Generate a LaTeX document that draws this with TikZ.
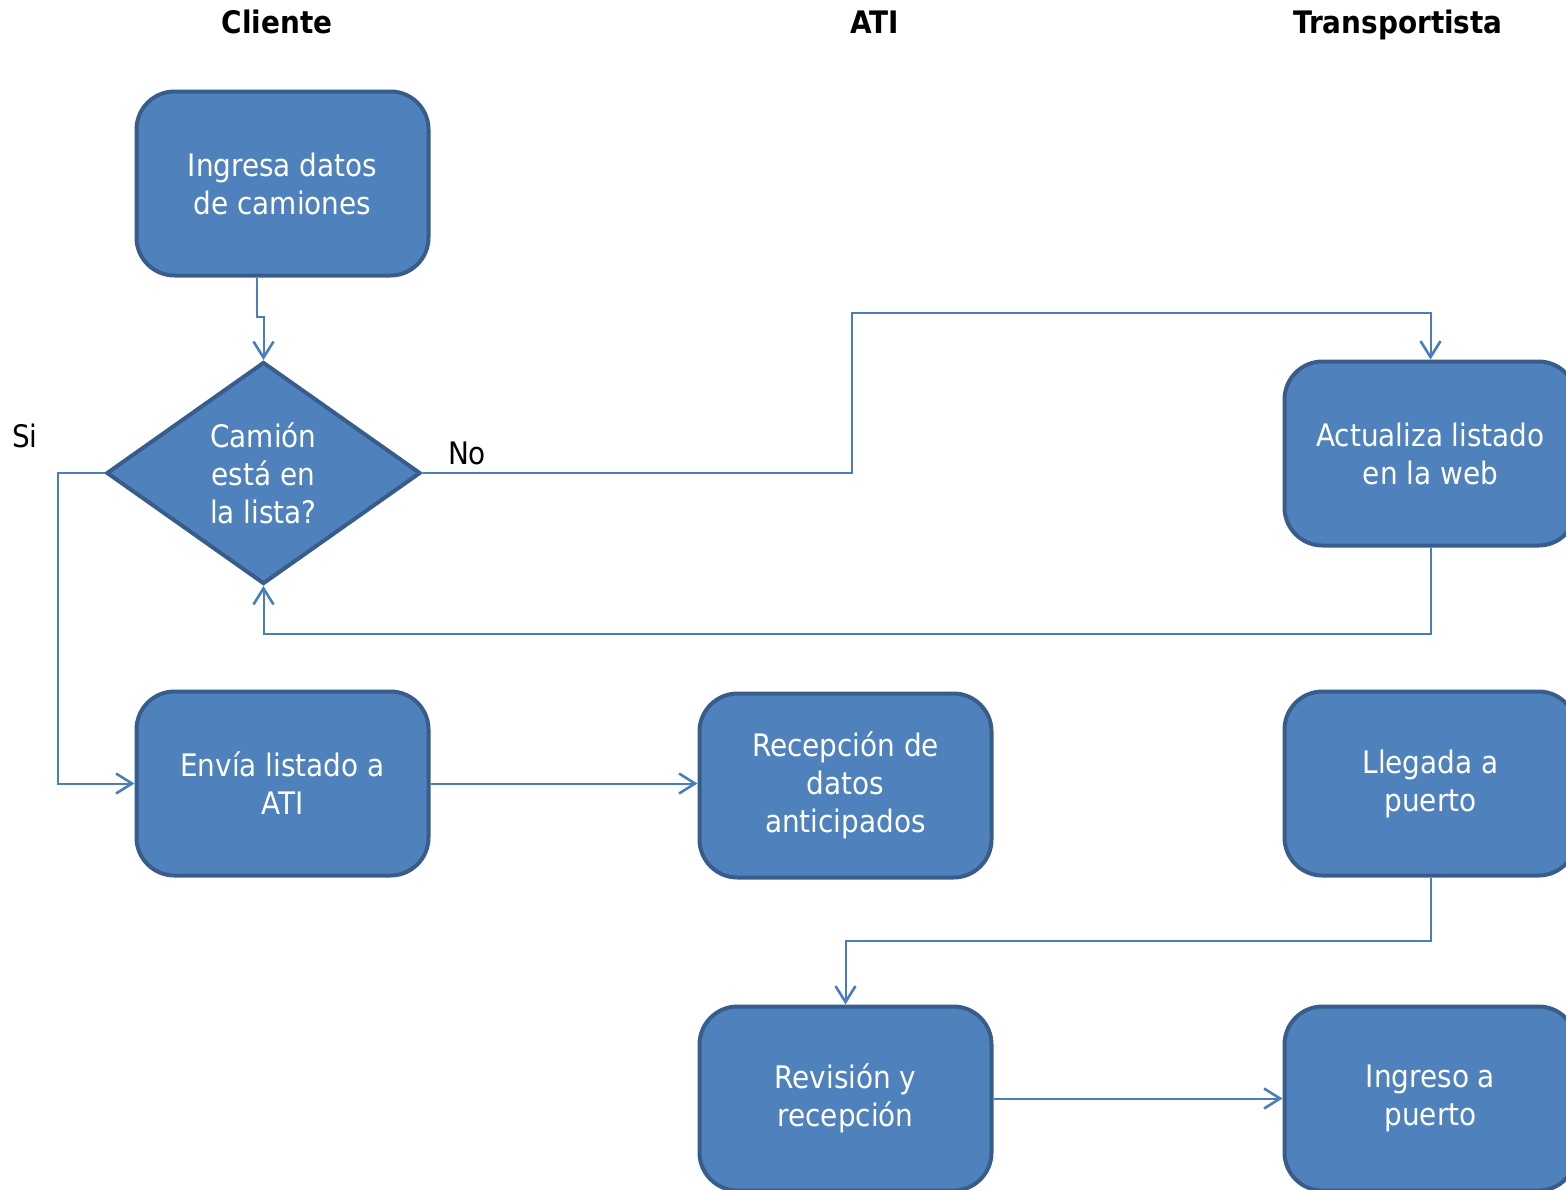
\documentclass[tikz,border=0pt]{standalone}
\usepackage{fontspec}
\setmainfont{DejaVu Sans Condensed}
\usetikzlibrary{shapes.geometric,arrows.meta}
\definecolor{boxfill}{HTML}{4F81BD}
\definecolor{boxline}{HTML}{385D8A}
\definecolor{link}{HTML}{4A7EBB}

\begin{document}
\begin{tikzpicture}[x=0.5pt, y=-0.5pt,
  >={Straight Barb[length=8pt,width=10pt,line width=1.3pt]},
  proc/.style={rectangle, rounded corners=19pt, draw=boxline, line width=2pt, fill=boxfill,
    minimum width=146pt, minimum height=92pt, text=white, align=center,
    font=\fontsize{15.5}{19}\selectfont},
  decision/.style={diamond, shape aspect=1.4, inner sep=0pt, draw=boxline, line width=2pt, fill=boxfill,
    minimum width=157pt, minimum height=111pt, text=white, align=center,
    font=\fontsize{15.5}{19}\selectfont},
  lane/.style={anchor=base, font=\bfseries\fontsize{15.5}{19}\selectfont},
  tag/.style={font=\fontsize{15.5}{19}\selectfont},
  conn/.style={draw=link, line width=1pt}]
\useasboundingbox (0,0) rectangle (1566,1189);
\clip (0,0) rectangle (1566,1189);

\node (T1) at (277, 33) [lane] {Cliente};
\node (T2) at (875, 33) [lane] {ATI};
\node (T3) at (1398, 33) [lane] {Transportista};

\node (A) at (282.5, 183.5) [proc] {Ingresa datos\\de camiones};
\node (B) at (263.5, 473) [decision] {Camión\\está en\\la lista?};
\node (C) at (1430.5, 453.5) [proc] {Actualiza listado\\en la web};
\node (D) at (282.5, 783.5) [proc] {Envía listado a\\ATI};
\node (E) at (845.5, 785.5) [proc] {Recepción de\\datos\\anticipados};
\node (F) at (1430.5, 783.5) [proc] {Llegada a\\puerto};
\node (G) at (845.5, 1098.5) [proc] {Revisión y\\recepción};
\node (H) at (1430.5, 1098.5) [proc] {Ingreso a\\puerto};

\node (si) at (25, 436) [tag] {Si};
\node (no) at (467, 453) [tag] {No};

\draw[conn, ->] ([xshift=-13pt]A.south) -- ++(0, 39) -| (B.north);
\draw[conn, ->] (B.west) -- ++(-47, 0) |- (D.west);
\draw[conn, ->] (B.east) -| (852, 313) -| (C.north);
\draw[conn, ->] (C.south) -- ++(0, 86) -| (B.south);
\draw[conn, ->] (D.east) -- (D.east -| E.west);
\draw[conn, ->] (F.south) -- ++(0, 63) -| (G.north);
\draw[conn, ->] (G.east) -- (H.west);
\end{tikzpicture}
\end{document}
